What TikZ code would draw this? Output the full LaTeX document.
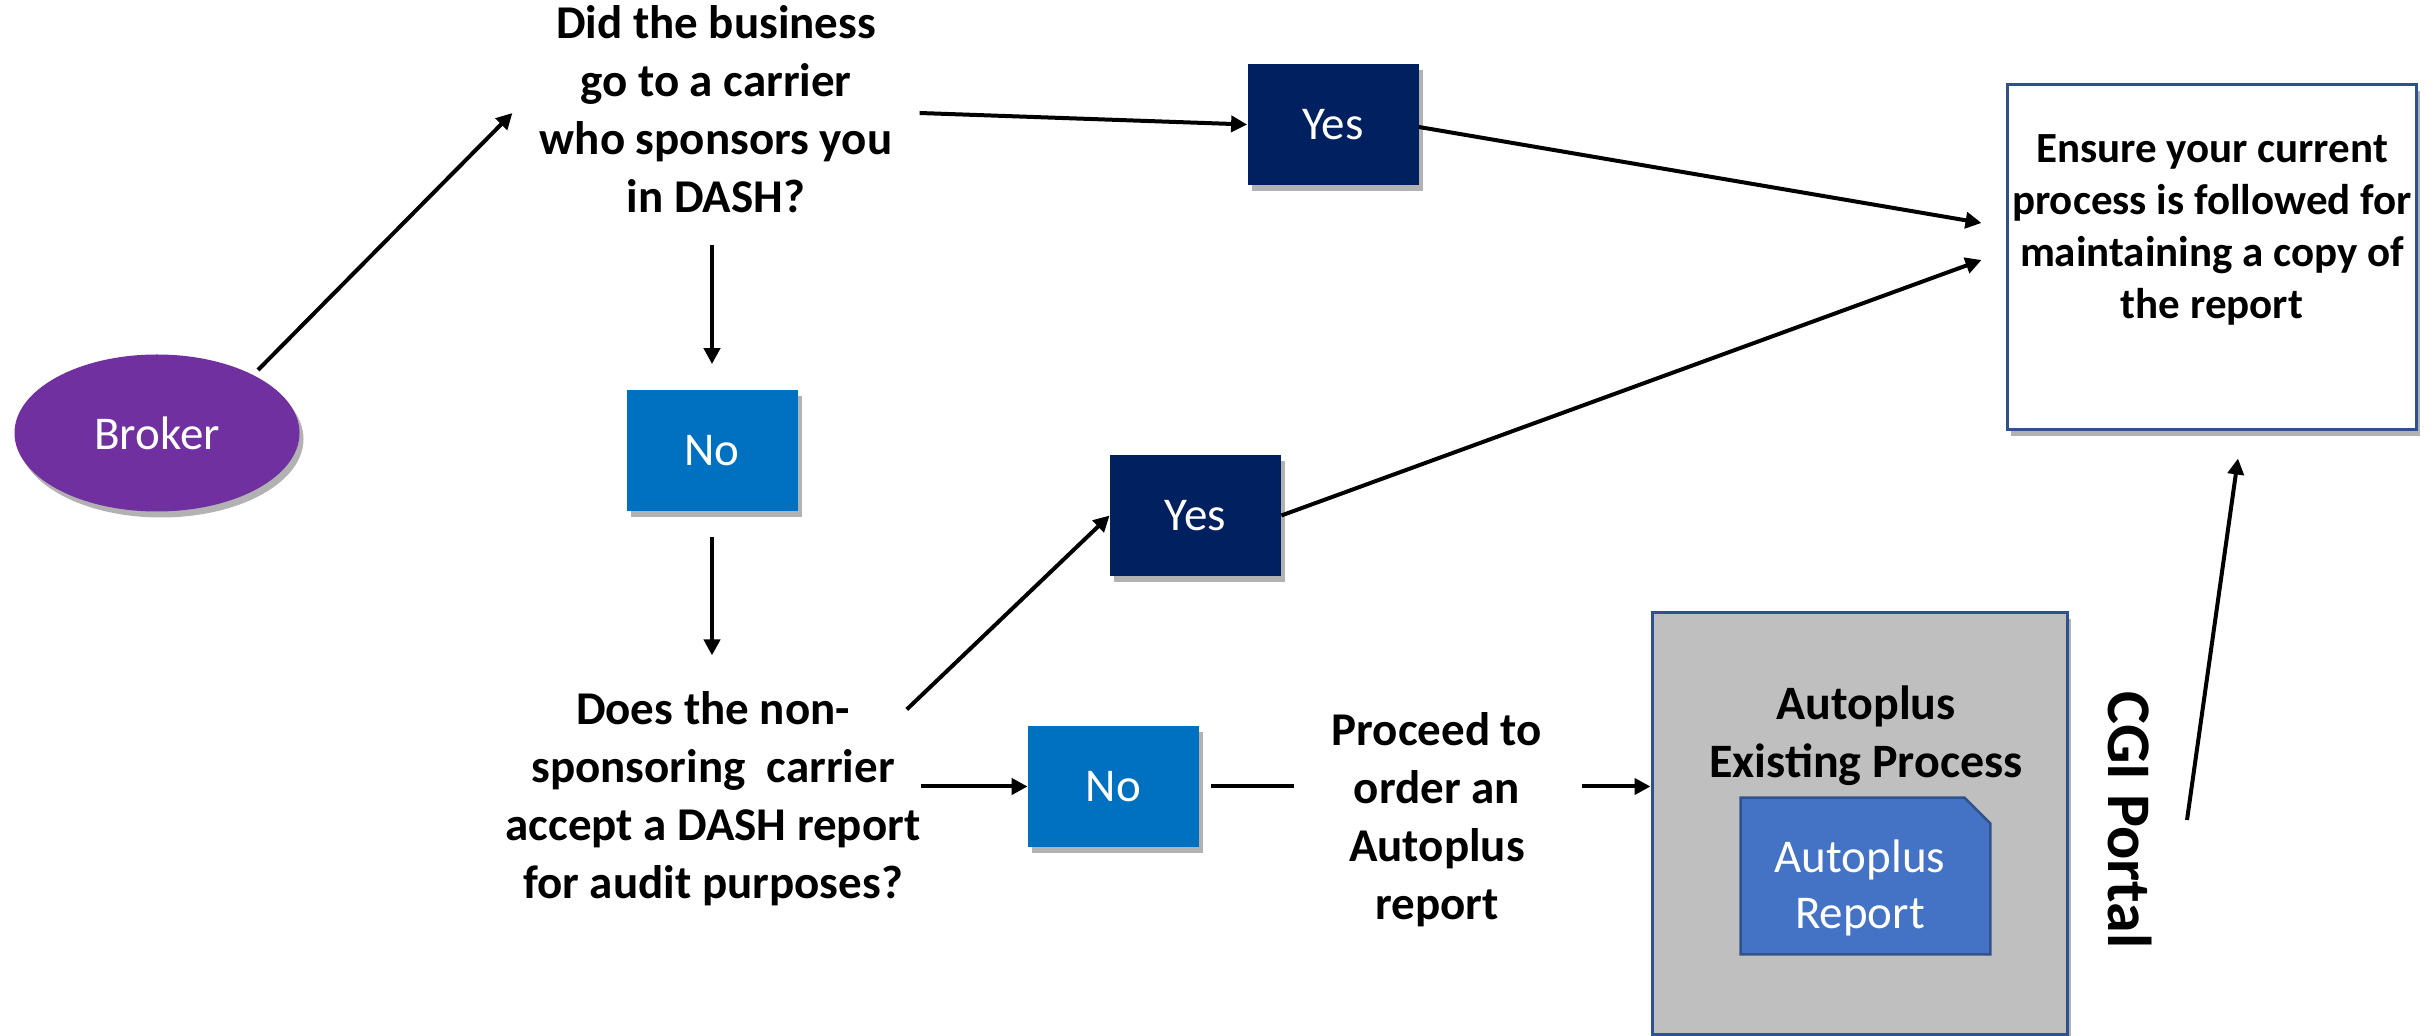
\documentclass[tikz,border=0pt]{standalone}
\usepackage{fontspec}
\setmainfont{Carlito}
\usetikzlibrary{shapes.geometric,arrows.meta,calc,shadows}
\definecolor{navy}{HTML}{002060}
\definecolor{nobl}{HTML}{0070C0}
\definecolor{purp}{HTML}{7030A0}
\definecolor{edgebl}{HTML}{2F528F}
\definecolor{grayfill}{HTML}{BFBFBF}
\definecolor{repbl}{HTML}{4472C4}
\begin{document}
\begin{tikzpicture}[x=0.5pt,y=-0.5pt,
  shad/.style={drop shadow={shadow xshift=2pt,shadow yshift=-3pt,opacity=0.3,fill=black}},
  ybox/.style={rectangle,fill=navy,text=white,minimum width=85.5pt,minimum height=60.5pt,inner sep=0pt,font=\fontsize{23.5pt}{29pt}\selectfont,shad},
  nbox/.style={ybox,fill=nobl},
  qtext/.style={align=center,inner sep=0pt,font=\fontsize{23.5pt}{29pt}\selectfont\bfseries},
  conn/.style={line width=2pt,-{Triangle[length=8pt,width=8pt]}},
  plainline/.style={line width=2pt},
]
\useasboundingbox (0,0) rectangle (2436,1036);

% nodes
\node[ellipse,fill=purp,text=white,minimum width=142.5pt,minimum height=78.5pt,inner sep=0pt,
      font=\fontsize{23.5pt}{29pt}\selectfont,shad] (broker) at (157,433) {Broker};
\node[qtext] (q1) at (716,109) {Did the business\\go to a carrier\\who sponsors you\\in DASH?};
\node[ybox] (yes1) at (1333,124.5) {Yes};
\node[nbox] (no1) at (712,451) {No};
\node[qtext] (q2) at (713,799) {Does the non-\\sponsoring\ \ carrier\\accept a DASH report\\for audit purposes?};
\node[ybox] (yes2) at (1195.5,515.5) {Yes};
\node[nbox] (no2) at (1113.5,786.5) {No};
\node[qtext] (proceed) at (1437,820) {Proceed to\\order an\\Autoplus\\report};
\node[rectangle,draw=edgebl,line width=1.5pt,fill=white,minimum width=204.5pt,minimum height=172.5pt,shad] (ensure) at (2211.5,257.5) {};
\node[align=center,inner sep=0pt,font=\fontsize{21.5pt}{26pt}\selectfont\bfseries] (ensuretxt) at (2212,230)
  {Ensure your current\\process is followed for\\maintaining a copy of\\the report};
\node[rectangle,draw=edgebl,line width=1.5pt,fill=grayfill,minimum width=207.5pt,minimum height=210.5pt,shad] (autoplus) at (1859.5,823.5) {};
\node[qtext,font=\fontsize{24pt}{29pt}\selectfont\bfseries] (autotxt) at (1866,736) {Autoplus\\Existing Process};
\node[rectangle,minimum width=124.5pt,minimum height=78pt,inner sep=0pt] (report) at (1865.5,876) {};
\fill[repbl,draw=edgebl,line width=1.2pt] (report.south west) -- (report.north west)
  -- ($(report.north east)+(-26,0)$) -- ($(report.north east)+(0,26)$) -- (report.south east) -- cycle;
\node[align=center,inner sep=0pt,text=white,font=\fontsize{23.5pt}{28pt}\selectfont] (reptxt) at (1860,888) {Autoplus\\Report};
\node[rotate=-90,inner sep=0pt,font=\fontsize{31pt}{36pt}\selectfont\bfseries] (cgi) at (2130,820) {CGI Portal};

% connectors
\draw[conn] ($(broker.center)+(101,-63)$) -- ($(q1.west)+(-27,4)$);
\draw[conn] ($(q1.east)+(27,4)$) -- (yes1.west);
\draw[conn] ($(yes1.east)+(0,2.5)$) -- ($(ensure.west)+(-24,-34.5)$);
\draw[conn,shorten <=16pt,shorten >=13pt] (no1.north |- q1.south) -- (no1.north);
\draw[conn,shorten <=12.5pt,shorten >=18pt] (no1.south) -- (no1.south |- q2.north);
\draw[conn] ($(q2.north east)+(-14,18)$) -- (yes2.west);
\draw[conn] (yes2.east) -- ($(ensure.west)+(-24,2.5)$);
\draw[conn] (q2.east |- no2.west) -- (no2.west);
\draw[plainline,shorten <=6pt,shorten >=18.5pt] (no2.east) -- (proceed.west |- no2.east);
\draw[conn,shorten <=19.5pt] (proceed.east |- no2.east) -- (autoplus.west |- no2.east);
\draw[conn] ($(cgi.center)+(57,0)$) -- ($(ensure.south)+(26.5,27)$);
\end{tikzpicture}
\end{document}
